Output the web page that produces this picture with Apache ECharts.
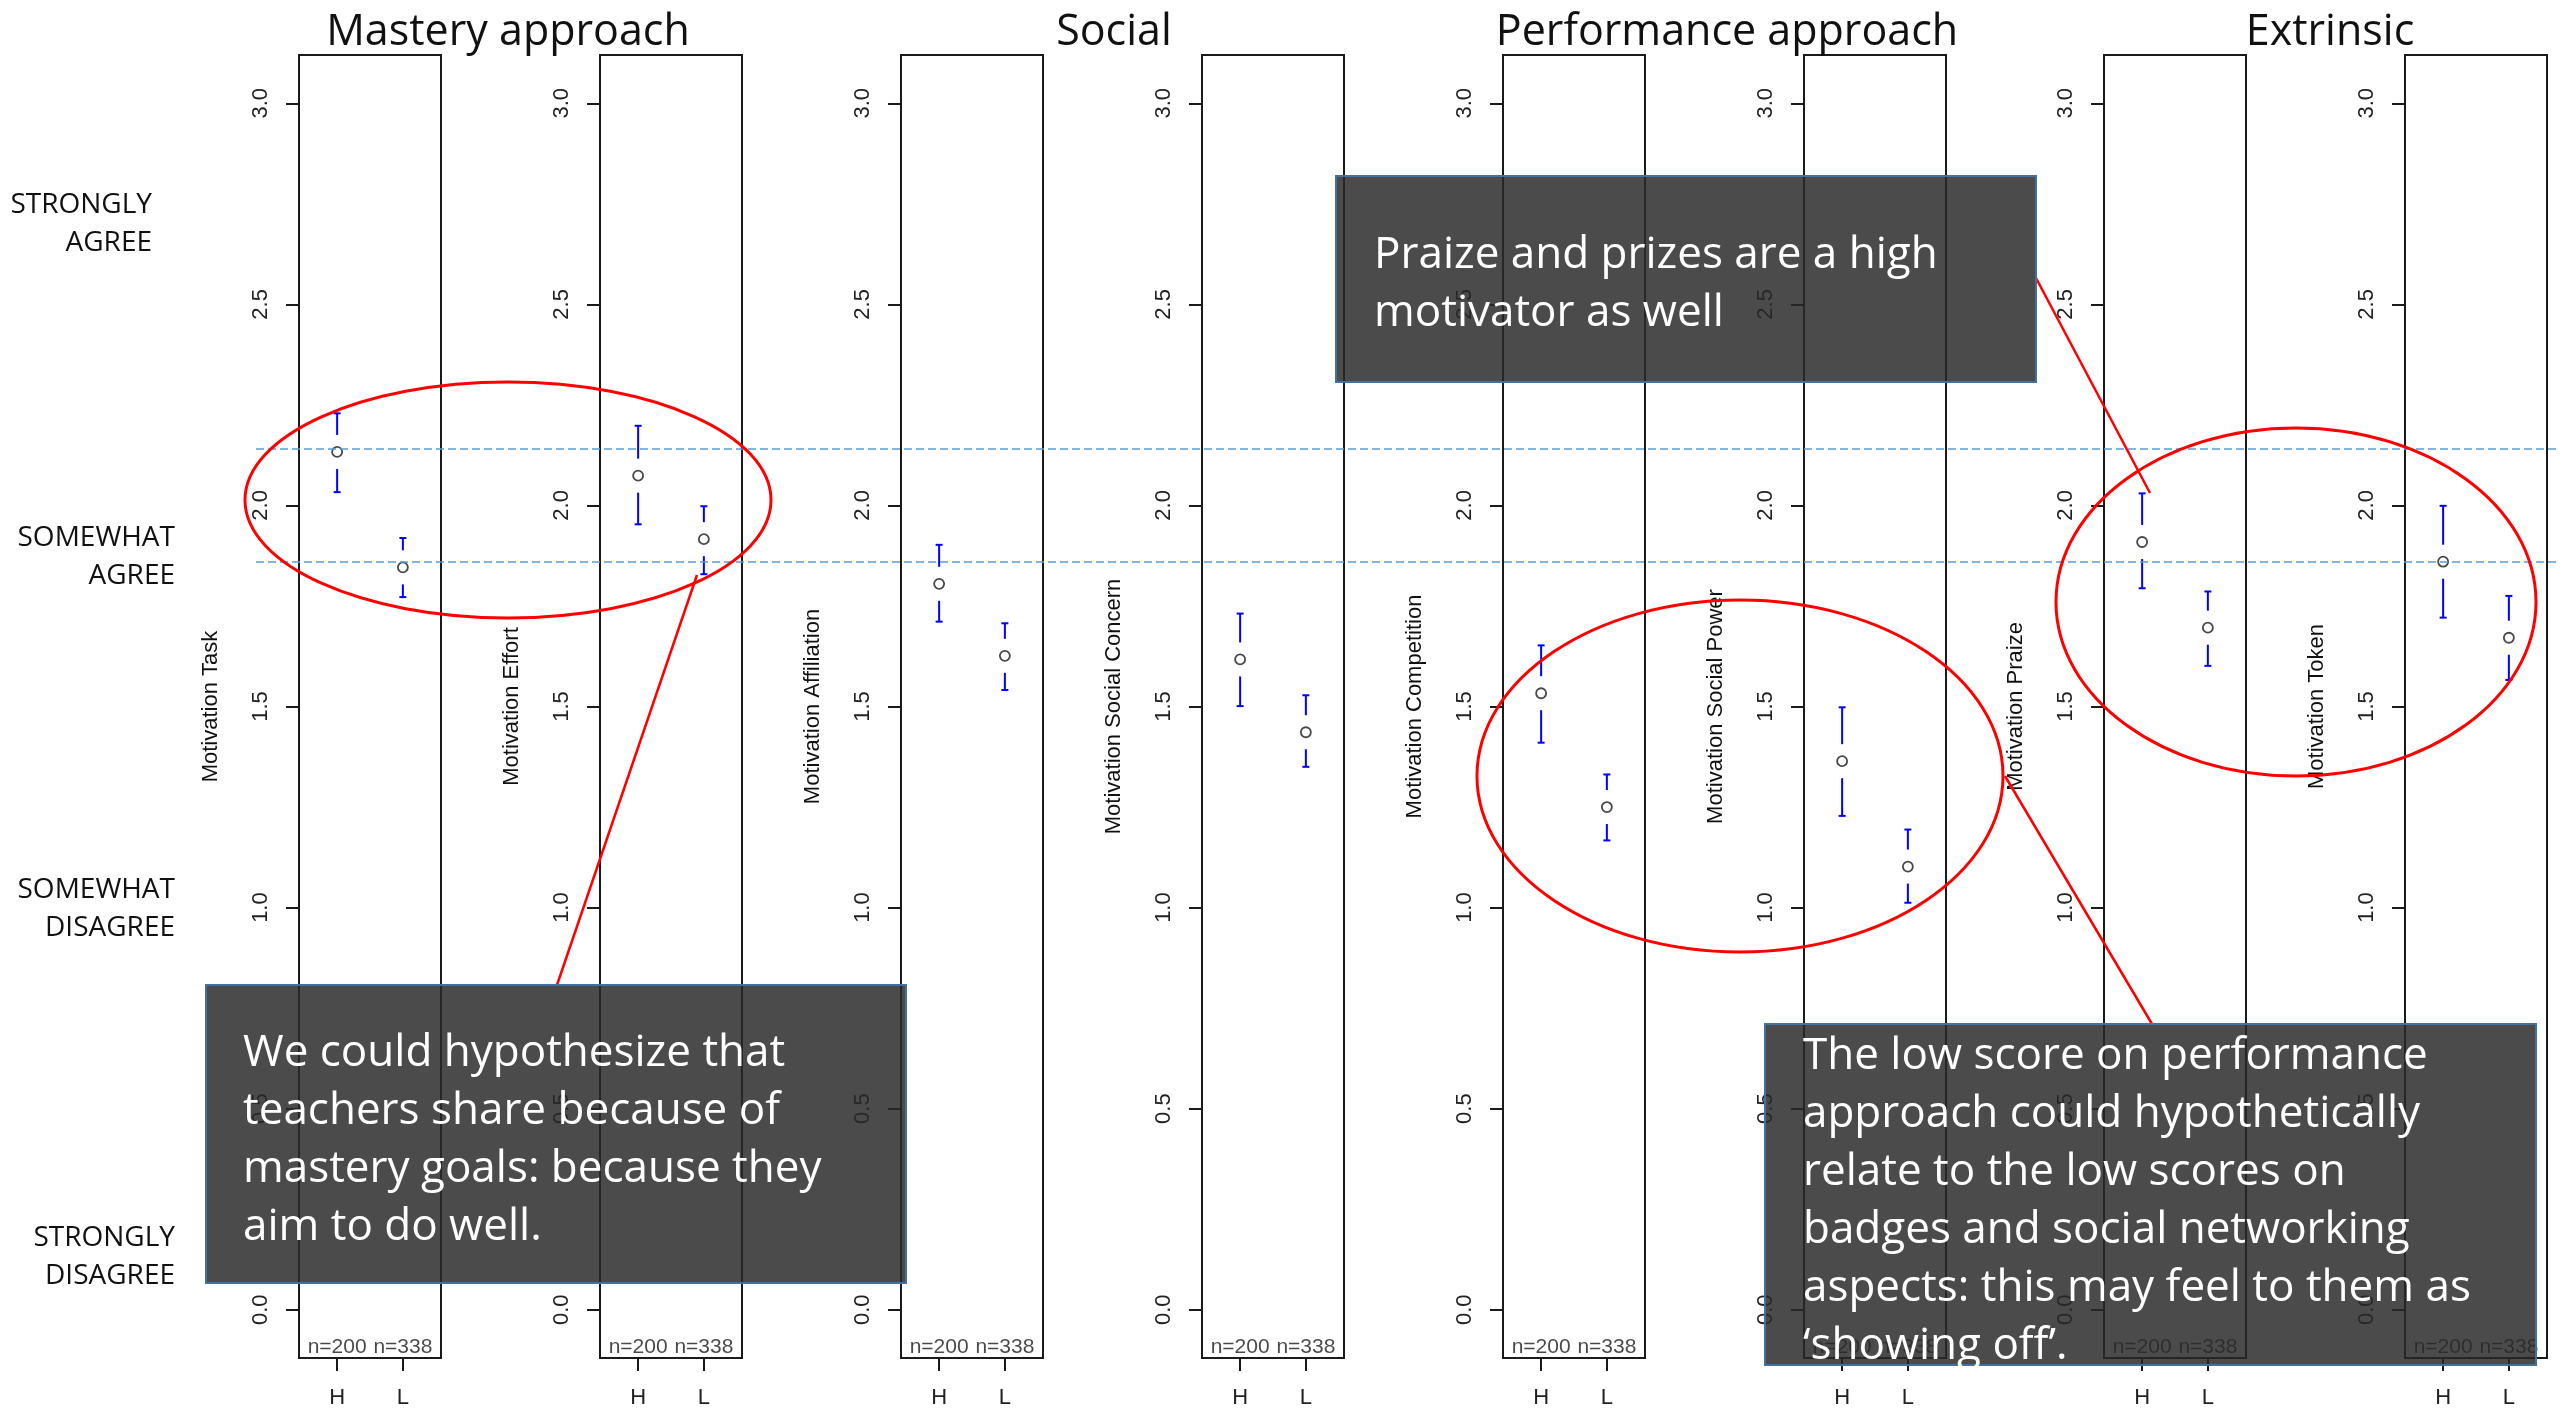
<!DOCTYPE html>
<html>
<head>
<meta charset="utf-8">
<title>Motivation H vs L</title>
<script src="https://cdn.jsdelivr.net/npm/echarts@6/dist/echarts.min.js"></script>
<style>
	html, body { margin: 0; padding: 0; background: #fff; }
	#chart_box { width: 2560px; height: 1411px; }
</style>
</head>
<body>
<div id="chart_box"></div>
<script>
/*数据*/
var panelNames = ['Motivation Task', 'Motivation Effort', 'Motivation Affiliation', 'Motivation Social Concern',
	'Motivation Competition', 'Motivation Social Power', 'Motivation Praize', 'Motivation Token'];
var groups = ['H', 'L'];
var groupN = [200, 338];
var meanH = [2.133, 2.074, 1.805, 1.617, 1.533, 1.364, 1.909, 1.860];
var lowH = [2.033, 1.953, 1.711, 1.501, 1.410, 1.228, 1.794, 1.721];
var highH = [2.229, 2.198, 1.902, 1.731, 1.652, 1.498, 2.030, 1.999];
var meanL = [1.846, 1.916, 1.626, 1.436, 1.250, 1.102, 1.696, 1.671];
var lowL = [1.772, 1.829, 1.541, 1.350, 1.167, 1.012, 1.601, 1.566];
var highL = [1.919, 1.998, 1.707, 1.528, 1.331, 1.194, 1.786, 1.775];
var yTicks = [0, 0.5, 1, 1.5, 2, 2.5, 3];
var refLines = [2.138, 1.862];
var sections = ['Mastery approach', 'Social', 'Performance approach', 'Extrinsic'];
var scaleLabels = ['STRONGLY\nAGREE', 'SOMEWHAT\nAGREE', 'SOMEWHAT\nDISAGREE', 'STRONGLY\nDISAGREE'];
var notes = [
	'We could hypothesize that\nteachers share because of\nmastery goals: because they\naim to do well.',
	'Praize and prizes are a high\nmotivator as well',
	'The low score on performance\napproach could hypothetically\nrelate to the low scores on\nbadges and social networking\naspects: this may feel to them as\n\u2018showing off\u2019.'
];

/*布局*/
var R_FONT = 'Liberation Sans, Arial, sans-serif';
var S_FONT = 'Open Sans, Noto Sans, sans-serif';
var gridTop = 55, gridHeight = 1303, gridWidth = 142;
var yMin = -0.12, yMax = 3.12;
var sectionX = [508, 1114, 1727, 2330];
var scaleLabelPos = [[152, 186], [175, 519], [175, 871], [175, 1219]];
var boxes = [
	{ x: 206, y: 985, w: 700, h: 298, tx: 243, ty: 1024 },
	{ x: 1336, y: 176, w: 700, h: 206, tx: 1374, ty: 226 },
	{ x: 1765, y: 1024, w: 771, h: 341, tx: 1803, ty: 1027 }
];
var ellipses = [[508, 500, 263, 118], [1740, 776, 263, 176], [2296, 602, 240, 174]];
var connectors = [[557, 985, 697, 575], [2036, 278, 2150, 493], [2152, 1024, 2005, 776]];

/*误差线*/
function renderBar(params, api) {
	var x = api.value(0);
	var pLo = api.coord([x, api.value(1)]);
	var pHi = api.coord([x, api.value(2)]);
	var pM = api.coord([x, api.value(3)]);
	var gap = 17, cap = 3.5;
	var st = { stroke: '#0000ff', lineWidth: 2 };
	return {
		type: 'group',
		children: [
			{ type: 'line', shape: { x1: pHi[0], y1: pHi[1], x2: pHi[0], y2: pM[1] - gap }, style: st },
			{ type: 'line', shape: { x1: pLo[0], y1: pM[1] + gap, x2: pLo[0], y2: pLo[1] }, style: st },
			{ type: 'line', shape: { x1: pHi[0] - cap, y1: pHi[1], x2: pHi[0] + cap, y2: pHi[1] }, style: st },
			{ type: 'line', shape: { x1: pLo[0] - cap, y1: pLo[1], x2: pLo[0] + cap, y2: pLo[1] }, style: st }
		]
	};
}

var grid = [], xAxis = [], yAxis = [], series = [];
var tickStyle = { color: '#1a1a1a', width: 2 };
var edgeStyle = { color: '#1a1a1a', width: 2 };
for(var i = 0; i < panelNames.length; i++) {
	grid.push({
		left: Math.round(299 + i * 300.9), top: gridTop, width: gridWidth, height: gridHeight,
		show: true, borderColor: '#1a1a1a', borderWidth: 2, backgroundColor: 'transparent'
	});
	xAxis.push({
		gridIndex: i, type: 'value', min: 0.42, max: 2.58, position: 'bottom',
		axisLine: { show: true, onZero: false, lineStyle: edgeStyle }, splitLine: { show: false },
		axisTick: { show: true, customValues: [1, 2], length: 13, lineStyle: tickStyle },
		axisLabel: {
			customValues: [1, 2], margin: 29, fontSize: 22, color: '#222', fontFamily: R_FONT,
			formatter: function(v) { return groups[Math.round(v) - 1]; }
		}
	});
	yAxis.push({
		gridIndex: i, type: 'value', min: yMin, max: yMax,
		name: panelNames[i], nameLocation: 'middle', nameGap: 77, nameRotate: 90,
		nameTextStyle: { fontFamily: R_FONT, fontSize: 22, color: '#111' },
		axisLine: { show: true, onZero: false, lineStyle: edgeStyle }, splitLine: { show: false },
		axisTick: { show: true, customValues: yTicks, length: 13, lineStyle: tickStyle },
		axisLabel: {
			customValues: yTicks, rotate: 90, margin: 27, fontSize: 22, color: '#222', fontFamily: R_FONT,
			formatter: function(v) { return v.toFixed(1); }
		}
	});
	series.push({
		type: 'custom', xAxisIndex: i, yAxisIndex: i, renderItem: renderBar,
		encode: { x: 0, y: [1, 2] },
		data: [[1, lowH[i], highH[i], meanH[i]], [2, lowL[i], highL[i], meanL[i]]]
	});
	series.push({
		type: 'scatter', xAxisIndex: i, yAxisIndex: i, symbol: 'circle', symbolSize: 10,
		itemStyle: { color: '#fff', borderColor: '#1a1a1a', borderWidth: 1.8 },
		data: [[1, meanH[i]], [2, meanL[i]]]
	});
	series.push({
		type: 'scatter', xAxisIndex: i, yAxisIndex: i, symbolSize: 0, silent: true,
		label: {
			show: true, position: 'top', distance: 0, fontSize: 21, color: '#1a1a1a', fontFamily: R_FONT,
			formatter: function(p) { return 'n=' + groupN[p.dataIndex]; }
		},
		data: [[1, yMin], [2, yMin]]
	});
}

/*参考虚线*/
grid.push({ left: 256, right: 0, top: gridTop, height: gridHeight });
xAxis.push({ gridIndex: 8, type: 'value', min: 0, max: 1, show: false });
yAxis.push({ gridIndex: 8, type: 'value', min: yMin, max: yMax, show: false });
series.push({
	type: 'line', xAxisIndex: 8, yAxisIndex: 8, showSymbol: false, data: [[0, refLines[0]]],
	markLine: {
		silent: true, symbol: 'none', label: { show: false },
		lineStyle: { type: [8, 4], color: '#5b9bd5', width: 1.5 },
		data: refLines.map(function(v) { return { yAxis: v }; })
	}
});

/*标注*/
var graphic = [];
for(var k = 0; k < scaleLabels.length; k++) {
	graphic.push({
		type: 'text', x: scaleLabelPos[k][0], y: scaleLabelPos[k][1], z: 10,
		style: { text: scaleLabels[k], font: '28px ' + S_FONT, fill: '#111', align: 'right', verticalAlign: 'top', lineHeight: 38 }
	});
}
ellipses.forEach(function(e) {
	graphic.push({
		type: 'ellipse', z: 60, shape: { cx: e[0], cy: e[1], rx: e[2], ry: e[3] },
		style: { fill: 'none', stroke: '#ff0000', lineWidth: 3 }
	});
});
connectors.forEach(function(c) {
	graphic.push({
		type: 'line', z: 60, shape: { x1: c[0], y1: c[1], x2: c[2], y2: c[3] },
		style: { stroke: '#ff0000', lineWidth: 2.5 }
	});
});
boxes.forEach(function(b, j) {
	graphic.push({
		type: 'rect', z: 100, shape: { x: b.x, y: b.y, width: b.w, height: b.h },
		style: { fill: 'rgba(40,40,40,0.84)', stroke: '#41719c', lineWidth: 2 }
	});
	graphic.push({
		type: 'text', z: 101, x: b.tx, y: b.ty,
		style: { text: notes[j], font: '44px ' + S_FONT, fill: '#fff', align: 'left', verticalAlign: 'top', lineHeight: 58 }
	});
});

var myChart = echarts.init(document.getElementById('chart_box'));
var option = {
	animation: false,
	backgroundColor: '#fff',
	title: sections.map(function(s, j) {
		return {
			text: s, left: sectionX[j], top: 11, textAlign: 'center', padding: 0,
			textStyle: { fontFamily: S_FONT, fontSize: 43, fontWeight: 'normal', color: '#111' }
		};
	}),
	grid: grid,
	xAxis: xAxis,
	yAxis: yAxis,
	series: series,
	graphic: graphic
};
myChart.setOption(option);
</script>
</body>
</html>
